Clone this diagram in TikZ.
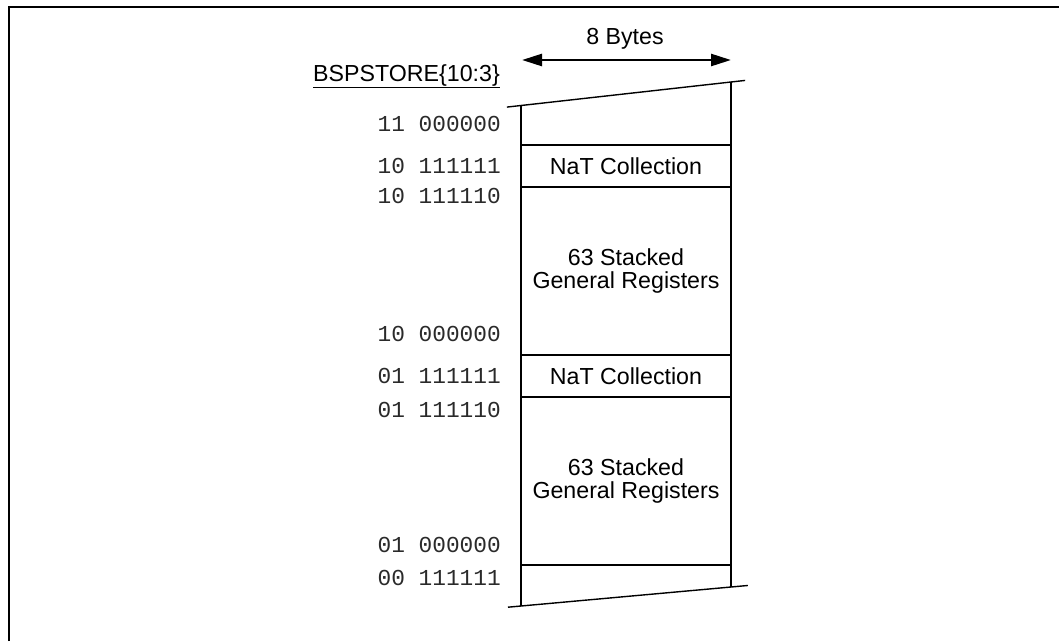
\documentclass[tikz,border=0pt]{standalone}
\usepackage{fontspec}
\setmainfont{Liberation Sans}
\newfontfamily\addrfont{Liberation Mono}
\usetikzlibrary{calc, arrows.meta, positioning}
\definecolor{cbk}{HTML}{000000}
\definecolor{caddr}{HTML}{2A2A2A}

\begin{document}
\begin{tikzpicture}[x=1pt, y=-1pt]
    \useasboundingbox (0,0) rectangle (1059,641);
    \begin{scope}[
        cellbox/.style={rectangle, draw=cbk, line width=2.5pt, minimum width=210pt, inner sep=0pt, font=\fontsize{23.2}{23.5}\selectfont, align=center},
        natbox/.style={cellbox, minimum height=42pt},
        regbox/.style={cellbox, minimum height=168pt},
        addrlabel/.style={anchor=east, inner sep=0pt, font=\addrfont\fontsize{22.8}{24}\selectfont\color{caddr}},
        wall/.style={line width=2.5pt, draw=cbk},
        cutline/.style={line width=1.4pt, draw=cbk},
        arrow/.style={{Triangle[length=20pt, width=12pt]}-{Triangle[length=20pt, width=12pt]}, line width=2.5pt, draw=cbk}
    ]
        % ================= frame =================
        \draw[line width=2pt] (9,641) -- (9,7) -- (1059,7);

        % ================= header =================
        \node[inner sep=0pt, font=\fontsize{23.2}{24}\selectfont] (bytes) at (625,39) {8 Bytes};
        \coordinate (arr_l) at (522,60);
        \coordinate (arr_r) at (731,60);
        \draw[arrow] (arr_l) -- (arr_r);
        \node[anchor=east, inner sep=0pt, font=\fontsize{23.2}{24}\selectfont] (bspstore) at (500,76) {\underline{BSPSTORE\{10:3\}}};

        % ================= stack cells =================
        \node[natbox] (nat_hi) at (626,166) {NaT Collection};
        \node[regbox] (reg_hi) at (626,271) {63 Stacked\\General Registers};
        \node[natbox] (nat_lo) at (626,376) {NaT Collection};
        \node[regbox] (reg_lo) at (626,481) {63 Stacked\\General Registers};

        % walls and cut edges
        \coordinate (top_l) at (521,105.5);
        \coordinate (top_r) at (731,82);
        \coordinate (bot_l) at (521,606);
        \coordinate (bot_r) at (731,587);
        \draw[wall] (top_l) -- (bot_l);
        \draw[wall] (top_r) -- (bot_r);
        \draw[cutline] ($(top_l)!-0.067!(top_r)$) -- ($(top_r)!-0.067!(top_l)$);
        \draw[cutline] ($(bot_l)!-0.062!(bot_r)$) -- ($(bot_r)!-0.08!(bot_l)$);

        % ================= addresses =================
        \node[addrlabel] (a_1100) at (501,124) {11 000000};
        \node[addrlabel] (a_1077) at (501,166) {10 111111};
        \node[addrlabel] (a_1076) at (501,196) {10 111110};
        \node[addrlabel] (a_1000) at (501,334) {10 000000};
        \node[addrlabel] (a_0177) at (501,376) {01 111111};
        \node[addrlabel] (a_0176) at (501,410) {01 111110};
        \node[addrlabel] (a_0100) at (501,545) {01 000000};
        \node[addrlabel] (a_0077) at (501,578) {00 111111};
    \end{scope}
\end{tikzpicture}
\end{document}
